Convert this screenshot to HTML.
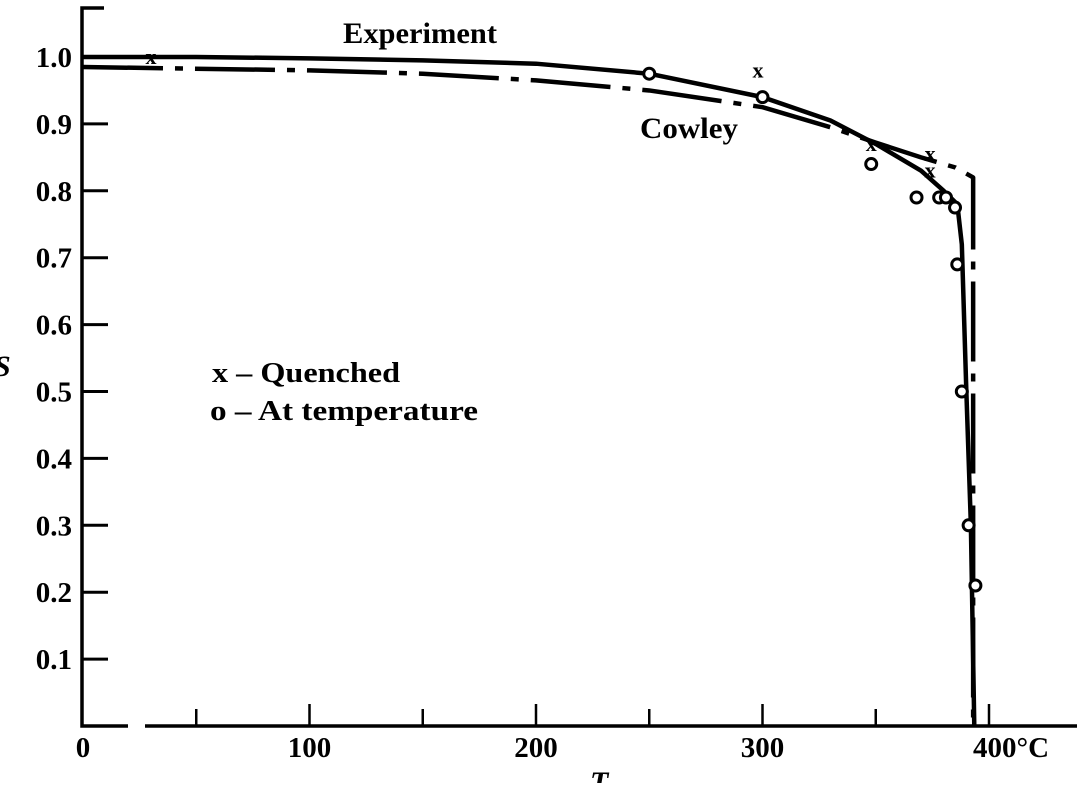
<!DOCTYPE html>
<html><head><meta charset="utf-8"><style>
body{margin:0;background:#fff;}
svg text{font-family:"Liberation Serif",serif;font-weight:bold;fill:#000;}
</style></head><body>
<svg id="chart" width="1077" height="783" viewBox="0 0 1077 783" xmlns="http://www.w3.org/2000/svg">
<g id="axes"></g>
<g id="series"></g>
<text x="343" y="43" font-size="30" textLength="154" lengthAdjust="spacingAndGlyphs">Experiment</text>
<text x="640" y="138" font-size="30" textLength="98" lengthAdjust="spacingAndGlyphs">Cowley</text>
<text x="212" y="382" font-size="29" textLength="188" lengthAdjust="spacingAndGlyphs">x – Quenched</text>
<text x="210" y="420" font-size="29" textLength="268" lengthAdjust="spacingAndGlyphs">o – At temperature</text>
<text x="-6" y="376" font-size="30" font-style="italic">S</text>
<text x="590" y="792" font-size="30" font-style="italic">T</text>
</svg>
<script>
const xTicks=[0,50,100,150,200,250,300,350,400,440];
const xLabels=["0","100","200","300","400°C"];
const xLabelVals=[0,100,200,300,400];
const yTicks=[0.1,0.2,0.3,0.4,0.5,0.6,0.7,0.8,0.9,1.0];
const expT=[0,50,100,150,200,250,300,330,350,370,380,386,388,390,392,393.5];
const expS=[1.0,1.0,0.998,0.995,0.99,0.975,0.94,0.905,0.87,0.83,0.80,0.78,0.72,0.5,0.3,0.0];
const cowT=[0,100,150,200,250,300,330,350,370,385,393,393];
const cowS=[0.985,0.98,0.975,0.965,0.95,0.925,0.895,0.872,0.85,0.835,0.82,0.0];
const quenchT=[30,298,348,374,374];
const quenchS=[1.0,0.98,0.87,0.855,0.83];
const atT=[250,300,348,368,378,381,385,386,388,391,394];
const atS=[0.975,0.94,0.84,0.79,0.79,0.79,0.775,0.69,0.5,0.3,0.21];
const X=t=>83+t*2.265, Y=s=>726-s*669;
const NS="http://www.w3.org/2000/svg";
function mk(tag,attrs,parent){const e=document.createElementNS(NS,tag);for(const k in attrs)e.setAttribute(k,attrs[k]);parent.appendChild(e);return e;}
const ax=document.getElementById('axes'), se=document.getElementById('series');
let e;
e=mk('path',{d:`M104 8H82V726H128M145 726H1077`,stroke:'#000','stroke-width':3.5,fill:'none'},ax);


xTicks.forEach((t,i)=>{if(t===0)return;const h=(t%100===0)?22:17;
e=mk('line',{x1:X(t),x2:X(t),y1:726,y2:726-h,stroke:'#000','stroke-width':2.5},ax);

});
xLabelVals.forEach((t,i)=>{
e=mk('text',{x:t===400?X(t)-16:X(t),y:757,'font-size':29,'text-anchor':t===400?'start':'middle'},ax);e.textContent=xLabels[i];

});
yTicks.forEach(s=>{
e=mk('line',{x1:82,x2:108,y1:Y(s),y2:Y(s),stroke:'#000','stroke-width':3},ax);


e=mk('text',{x:72,y:Y(s)+10,'font-size':29,'text-anchor':'end'},ax);e.textContent=s.toFixed(1);

});
e=mk('polyline',{points:expT.map((t,i)=>X(t)+','+Y(expS[i])).join(' '),stroke:'#000','stroke-width':4.5,fill:'none','stroke-linejoin':'round'},se);


e=mk('polyline',{points:cowT.map((t,i)=>X(t)+','+Y(cowS[i])).join(' '),stroke:'#000','stroke-width':4.5,fill:'none','stroke-dasharray':'80 12 8 12','stroke-linejoin':'round'},se);


quenchT.forEach((t,i)=>{
e=mk('text',{x:X(t),y:Y(quenchS[i])+7,'font-size':22,'font-family':'Liberation Sans','text-anchor':'middle'},se);e.textContent='x';

});
atT.forEach((t,i)=>{
e=mk('circle',{cx:X(t),cy:Y(atS[i]),r:5.5,fill:'#fff',stroke:'#000','stroke-width':3},se);

});
</script>
</body></html>
